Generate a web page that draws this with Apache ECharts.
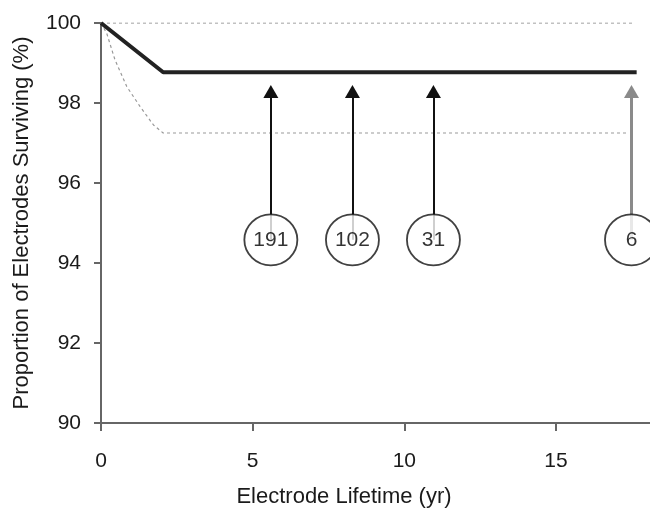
<!DOCTYPE html>
<html><head><meta charset="utf-8">
<script src="https://cdn.jsdelivr.net/npm/echarts@6/dist/echarts.min.js"></script>
<style>html,body{margin:0;padding:0;background:#fff}#c{width:650px;height:513px}</style>
</head><body><div id="c"></div>
<script>
const xTicks = [0, 5, 10, 15];
const yTicks = [90, 92, 94, 96, 98, 100];
const survX = [0, 2.05, 17.66];
const survY = [100, 98.77, 98.77];
const upperX = [0, 17.6];
const upperY = [100, 100];
const lowerX = [0, 0.19, 0.46, 0.85, 1.29, 1.73, 2.05, 17.34];
const lowerY = [100, 99.74, 99.08, 98.41, 97.91, 97.45, 97.25, 97.25];
const arrowX = [5.6, 8.29, 10.96, 17.49];
const arrowCounts = ['191', '102', '31', '6'];
const circleY = 94.58;
const arrowHeadY = 98.29;

const font = 'Liberation Sans, Arial, sans-serif';
const zip = (a, b) => a.map((v, i) => [v, b[i]]);

const arrowColors = ['#111', '#111', '#111', '#8a8a8a'];
const arrowSeries = arrowX.map((x, i) => ({
  type: 'line', data: [], silent: true,
  markLine: {
    silent: true, animation: false,
    symbol: ['none', 'triangle'], symbolSize: [15, 13],
    label: {show: false},
    lineStyle: {color: arrowColors[i], width: i === 3 ? 3 : 2, type: 'solid'},
    emphasis: {disabled: true},
    data: [[{coord: [x, circleY]}, {coord: [x, arrowHeadY], itemStyle: {color: '#111'}}]]
  }
}));

const chart = echarts.init(document.getElementById('c'), null, {renderer: 'canvas'});
chart.setOption({
  animation: false,
  backgroundColor: '#fff',
  grid: {left: 101, right: 0, top: 23, bottom: 90, containLabel: false},
  xAxis: {
    type: 'value', min: 0, max: 18.1,
    name: 'Electrode Lifetime (yr)', nameLocation: 'middle', nameGap: 63,
    nameTextStyle: {fontFamily: font, fontSize: 22, color: '#1a1a1a', padding: [0, 63, 0, 0]},
    axisLine: {lineStyle: {color: '#666', width: 2}},
    axisTick: {show: true, length: 8, lineStyle: {color: '#666', width: 2}, customValues: xTicks},
    axisLabel: {customValues: xTicks, margin: 28, fontFamily: font, fontSize: 21, color: '#1a1a1a'},
    splitLine: {show: false}
  },
  yAxis: {
    type: 'value', min: 90, max: 100, interval: 2,
    name: 'Proportion of Electrodes Surviving (%)', nameLocation: 'middle', nameGap: 68,
    nameTextStyle: {fontFamily: font, fontSize: 22, color: '#1a1a1a'},
    axisLine: {show: true, lineStyle: {color: '#666', width: 2}},
    axisTick: {show: true, length: 7, lineStyle: {color: '#666', width: 2}},
    axisLabel: {margin: 20, fontFamily: font, fontSize: 21, color: '#1a1a1a',
      formatter: v => yTicks.includes(v) ? String(v) : ''},
    splitLine: {show: false}
  },
  series: [
    {type: 'line', data: zip(upperX, upperY), symbol: 'none', silent: true,
      lineStyle: {color: '#999', width: 1.2, type: [3, 3]}},
    {type: 'line', data: zip(lowerX, lowerY), symbol: 'none', silent: true,
      lineStyle: {color: '#999', width: 1.2, type: [3, 3]}},
    {type: 'line', data: zip(survX, survY), symbol: 'none', silent: true,
      lineStyle: {color: '#222', width: 4}},
    ...arrowSeries,
    {type: 'scatter', silent: true, clip: false, z: 5,
      data: arrowX.map((x, i) => ({value: [x, circleY], name: arrowCounts[i]})),
      symbol: 'circle', symbolSize: [53, 51],
      itemStyle: {color: '#fff', borderColor: '#111', borderWidth: 1.8},
      label: {show: true, position: 'inside', formatter: p => p.name,
        fontFamily: font, fontSize: 21, color: '#000'}}
  ]
});
</script></body></html>
